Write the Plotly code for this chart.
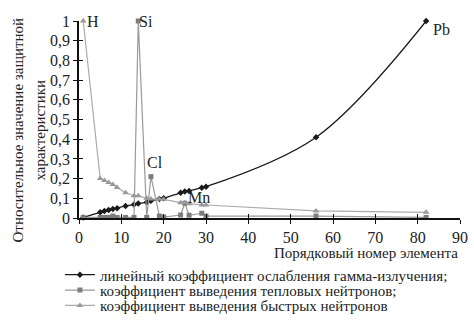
import plotly.graph_objects as go

# Atomic numbers of the elements considered
atomic_number = [1, 5, 6, 7, 8, 9, 11, 13, 14, 16, 17, 19, 20, 24, 25, 26, 29, 30, 56, 82]

# Relative values of the shielding characteristics
gamma_attenuation = [0.003, 0.029, 0.036, 0.040, 0.046, 0.050, 0.061, 0.068, 0.073, 0.080,
                     0.088, 0.096, 0.100, 0.128, 0.134, 0.137, 0.154, 0.159, 0.41, 1.0]
thermal_removal = [0.003, 0.003, 0.003, 0.003, 0.010, 0.003, 0.003, 0.003, 1.0, 0.003,
                   0.21, 0.010, 0.005, 0.015, 0.075, 0.014, 0.024, 0.010, 0.010, 0.003]
fast_removal = [1.0, 0.20, 0.19, 0.18, 0.17, 0.155, 0.128, 0.113, 0.113, 0.100,
                0.097, 0.095, 0.095, 0.078, 0.078, 0.072, 0.066, 0.066, 0.036, 0.029]

series_names = [
    "линейный коэффициент ослабления гамма-излучения;",
    "коэффициент выведения тепловых нейтронов;",
    "коэффициент выведения быстрых нейтронов",
]

# Element labels next to characteristic points
label_text = ["H", "Si", "Cl", "Mn", "Pb"]
label_x = [3.4, 15.9, 18.0, 28.3, 85.6]
label_y = [1.0, 1.0, 0.28, 0.105, 0.955]

x_ticks = [0, 10, 20, 30, 40, 50, 60, 70, 80, 90]
y_ticks = [0, 0.1, 0.2, 0.3, 0.4, 0.5, 0.6, 0.7, 0.8, 0.9, 1.0]
y_tick_text = ["0", "0,1", "0,2", "0,3", "0,4", "0,5", "0,6", "0,7", "0,8", "0,9", "1"]

FONT = "Liberation Serif, Times New Roman, DejaVu Serif, serif"
INK = "#222"

# Each series gets its own one-line legend so the rows can sit close together
legend_ids = ["legend", "legend2", "legend3"]
legend_rows_y = [-0.289, -0.367, -0.445]

styles = [
    dict(line=dict(color="#1a1a1a", width=1.3, shape="spline"),
         marker=dict(symbol="diamond", size=5, color="#1a1a1a")),
    dict(line=dict(color="#9a9a9a", width=1.2),
         marker=dict(symbol="square", size=5, color="#7d7d7d")),
    dict(line=dict(color="#ababab", width=1.2),
         marker=dict(symbol="triangle-up", size=6, color="#999999")),
]

fig = go.Figure()
for name, values, style, lid in zip(series_names,
                                    [gamma_attenuation, thermal_removal, fast_removal],
                                    styles, legend_ids):
    fig.add_trace(go.Scatter(x=atomic_number, y=values, name=name, mode="lines+markers",
                             cliponaxis=False, legend=lid, **style))

# Empty trace on overlay axes that carry the inner half of the tick marks
fig.add_trace(go.Scatter(x=[], y=[], xaxis="x2", yaxis="y2", showlegend=False, hoverinfo="skip"))

for t, xv, yv in zip(label_text, label_x, label_y):
    fig.add_annotation(x=xv, y=yv, text=t, showarrow=False,
                       font=dict(family=FONT, size=16, color=INK),
                       xanchor="center", yanchor="middle")

# Axis titles
fig.add_annotation(xref="paper", yref="paper", x=1, y=0, xanchor="right", yanchor="middle",
                   yshift=-35, text="Порядковый номер элемента", showarrow=False,
                   font=dict(family=FONT, size=15, color=INK))
fig.add_annotation(xref="paper", yref="paper", x=0, y=0.5, xanchor="center", yanchor="middle",
                   xshift=-62, yshift=-11, textangle=-90, text="Относительное значение защитной",
                   showarrow=False, font=dict(family=FONT, size=15, color=INK))
fig.add_annotation(xref="paper", yref="paper", x=0, y=0.5, xanchor="center", yanchor="middle",
                   xshift=-40, yshift=-11, textangle=-90, text="характеристики",
                   showarrow=False, font=dict(family=FONT, size=15, color=INK))

axis_common = dict(showgrid=False, zeroline=False, linecolor="#111", linewidth=1.5,
                   tickcolor="#111", tickwidth=1.3, ticklen=4,
                   tickfont=dict(family=FONT, size=16, color=INK))

legend_common = dict(x=-0.05, xanchor="left", yanchor="middle", orientation="v",
                     font=dict(family=FONT, size=15, color=INK), itemwidth=30,
                     bgcolor="rgba(0,0,0,0)", borderwidth=0)

fig.update_layout(
    width=474, height=324,
    margin=dict(l=79, r=14, t=21, b=106, autoexpand=False),
    paper_bgcolor="white", plot_bgcolor="white",
    font=dict(family=FONT, color=INK),
    xaxis=dict(range=[0, 90], tickvals=x_ticks, ticks="outside", showline=True, **axis_common),
    yaxis=dict(range=[0, 1], tickvals=y_ticks, ticktext=y_tick_text, ticks="outside",
               showline=True, **axis_common),
    xaxis2=dict(range=[0, 90], tickvals=x_ticks, ticks="inside", overlaying="x", anchor="y",
                showticklabels=False, showline=False, showgrid=False, zeroline=False,
                tickcolor="#111", tickwidth=1.3, ticklen=4),
    yaxis2=dict(range=[0, 1], tickvals=y_ticks, ticks="inside", overlaying="y", anchor="x",
                side="left", showticklabels=False, showline=False, showgrid=False, zeroline=False,
                tickcolor="#111", tickwidth=1.3, ticklen=4),
    legend=dict(y=legend_rows_y[0], **legend_common),
    legend2=dict(y=legend_rows_y[1], **legend_common),
    legend3=dict(y=legend_rows_y[2], **legend_common),
    showlegend=True,
)

fig.write_html("out.html")
